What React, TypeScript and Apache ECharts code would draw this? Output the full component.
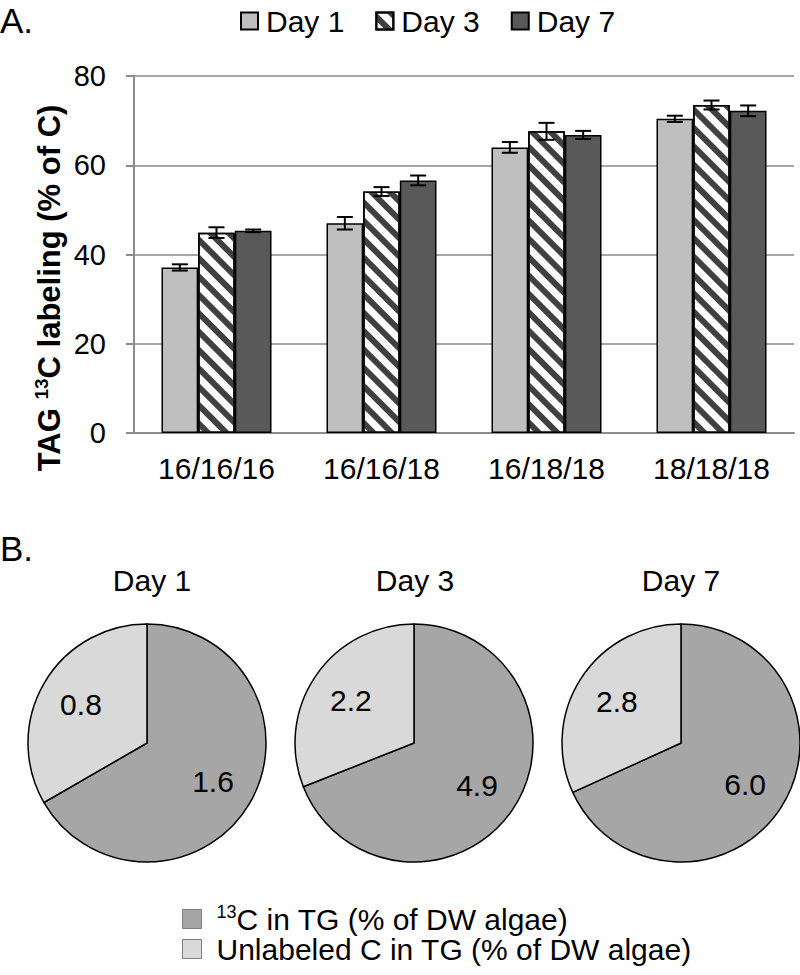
import React, { useEffect, useRef } from "react";
import * as echarts from "echarts";

const categories = ["16/16/16", "16/16/18", "16/18/18", "18/18/18"];
const seriesNames = ["Day 1", "Day 3", "Day 7"];
const day1 = [37.1, 47.0, 64.0, 70.4];
const day3 = [44.9, 54.1, 67.6, 73.5];
const day7 = [45.3, 56.6, 66.8, 72.2];
const err1 = [0.7, 1.4, 1.2, 0.7];
const err3 = [1.2, 1.0, 1.9, 1.0];
const err7 = [0.3, 1.1, 0.9, 1.2];
const yTicks = [0, 20, 40, 60, 80];

const pieTitles = ["Day 1", "Day 3", "Day 7"];
const labeledC = [1.6, 4.9, 6.0];
const unlabeledC = [0.8, 2.2, 2.8];
const pieNames = ["13C in TG (% of DW algae)", "Unlabeled C in TG (% of DW algae)"];

const FONT = "'Liberation Sans', Arial, sans-serif";

export default function App() {
  const ref = useRef<HTMLDivElement>(null);
  useEffect(() => {
    if (!ref.current) return;
    const chart = echarts.init(ref.current, null, { renderer: "svg" });
    const values = [day1, day3, day7];
    const errs = [err1, err3, err7];
    const barColors = ["#bfbfbf", "#ffffff", "#595959"];
    const errData: number[][] = [];
    values.forEach((arr, k) =>
      arr.forEach((v, i) => errData.push([i, v, errs[k][i], k]))
    );
    const pieCenters = [
      [147, 743],
      [414, 743],
      [681, 743],
    ];
    const pieTitleX = [152, 415, 681];

    const barSeries = seriesNames.map((name, k) => ({
      name,
      type: "bar",
      data: values[k],
      barGap: "0%",
      barCategoryGap: "33.33%",
      itemStyle: {
        color: barColors[k],
        borderColor: "#000",
        borderWidth: 1.5,
        ...(k === 1
          ? {
              decal: {
                symbol: "rect",
                symbolSize: 1,
                dashArrayX: [1, 0],
                dashArrayY: [6, 7],
                rotation: Math.PI / 4,
                color: "#404040",
              },
            }
          : {}),
      },
    }));

    const pieSeries = pieTitles.map((t, p) => ({
      name: t,
      type: "pie",
      radius: 119,
      center: pieCenters[p],
      startAngle: 90,
      clockwise: true,
      data: [
        { name: pieNames[0], value: labeledC[p], itemStyle: { color: "#a6a6a6" } },
        { name: pieNames[1], value: unlabeledC[p], itemStyle: { color: "#d9d9d9" } },
      ],
      itemStyle: { borderColor: "#000", borderWidth: 1.5 },
      label: {
        show: true,
        position: "inside",
        formatter: (pp: any) => Number(pp.value).toFixed(1),
        fontSize: 30,
        fontFamily: FONT,
        color: "#000",
      },
      labelLayout: (lp: any) => {
        const c = pieCenters[p];
        const r = lp.labelRect;
        const cx = r.x + r.width / 2;
        const cy = r.y + r.height / 2;
        const f = 1.22;
        return { x: c[0] + (cx - c[0]) * f, y: c[1] + (cy - c[1]) * f };
      },
      labelLine: { show: false },
      emphasis: { disabled: true },
    }));

    const option: any = {
      animation: false,
      textStyle: { fontFamily: FONT },
      grid: { left: 134, right: 6, top: 76, bottom: 542 },
      legend: [
        {
          data: seriesNames,
          left: 240,
          top: 6,
          padding: 0,
          icon: "rect",
          itemWidth: 17,
          itemHeight: 17,
          itemGap: 31,
          textStyle: { fontSize: 30, fontFamily: FONT, color: "#000", padding: [0, 0, 0, 3] },
        },
        {
          data: pieNames,
          orient: "vertical",
          left: 182,
          top: 903,
          padding: 0,
          icon: "rect",
          itemWidth: 19,
          itemHeight: 19,
          itemGap: 0,
          itemStyle: { borderColor: "#7f7f7f", borderWidth: 1 },
          formatter: (name: string) =>
            name === pieNames[0]
              ? "{sup|13}{n|" + name.slice(2) + "}"
              : "{n|" + name + "}",
          textStyle: {
            fontSize: 30,
            fontFamily: FONT,
            color: "#000",
            padding: [0, 0, 0, 10],
            rich: {
              sup: { fontSize: 18, fontFamily: FONT, color: "#000", verticalAlign: "top", lineHeight: 32 },
              n: { fontSize: 30, fontFamily: FONT, color: "#000", lineHeight: 32 },
            },
          },
        },
      ],
      xAxis: {
        type: "category",
        data: categories,
        axisLine: { lineStyle: { color: "#8c8c8c", width: 2 } },
        axisTick: { length: 9, lineStyle: { color: "#8c8c8c", width: 2 } },
        axisLabel: { fontSize: 30, color: "#000", margin: 20, fontFamily: FONT },
      },
      yAxis: {
        type: "value",
        min: yTicks[0],
        max: yTicks[yTicks.length - 1],
        interval: 20,
        axisLine: { show: true, lineStyle: { color: "#8c8c8c", width: 2 } },
        axisTick: { show: true, length: 8, lineStyle: { color: "#8c8c8c", width: 2 } },
        splitLine: { lineStyle: { color: "#a6a6a6", width: 2 } },
        axisLabel: { fontSize: 29, color: "#000", margin: 28, fontFamily: FONT },
      },
      graphic: [
        {
          type: "text",
          left: 0,
          top: 3,
          style: { text: "A.", font: `35px ${FONT}`, fill: "#000" },
        },
        {
          type: "text",
          left: 0,
          top: 531,
          style: { text: "B.", font: `35px ${FONT}`, fill: "#000" },
        },
        {
          type: "text",
          x: 49,
          y: 288,
          rotation: Math.PI / 2,
          style: {
            text: "{b|TAG }{sup|13}{b|C labeling (% of C)}",
            align: "center",
            verticalAlign: "middle",
            textAlign: "center",
            textVerticalAlign: "middle",
            fill: "#000",
            font: `bold 31px ${FONT}`,
            rich: {
              b: { fontSize: 31, fontWeight: "bold", fontFamily: FONT, fill: "#000", color: "#000", lineHeight: 34 },
              sup: { fontSize: 19, fontWeight: "bold", fontFamily: FONT, fill: "#000", color: "#000", verticalAlign: "top", lineHeight: 34 },
            },
          },
        },
        ...pieTitles.map((t, p) => ({
          type: "text",
          x: pieTitleX[p],
          y: 580,
          style: {
            text: t,
            font: `30px ${FONT}`,
            fill: "#000",
            align: "center",
            verticalAlign: "middle",
            textAlign: "center",
            textVerticalAlign: "middle",
          },
        })),
      ],
      series: [
        ...barSeries,
        {
          type: "custom",
          name: "err",
          data: errData,
          encode: { x: 0, y: 1 },
          z: 10,
          renderItem: (params: any, api: any) => {
            const cat = api.value(0);
            const val = api.value(1);
            const err = api.value(2);
            const k = api.value(3);
            const band = api.size([1, 0])[0];
            const bw = (band * (1 - 0.3333)) / 3;
            const xc = api.coord([cat, val])[0] + (k - 1) * bw;
            const top = api.coord([cat, val + err])[1];
            const bot = api.coord([cat, val - err])[1];
            const cap = 8;
            const st = { stroke: "#000", lineWidth: 2 };
            return {
              type: "group",
              children: [
                { type: "line", shape: { x1: xc, y1: top, x2: xc, y2: bot }, style: st },
                { type: "line", shape: { x1: xc - cap, y1: top, x2: xc + cap, y2: top }, style: st },
                { type: "line", shape: { x1: xc - cap, y1: bot, x2: xc + cap, y2: bot }, style: st },
              ],
            };
          },
        },
        ...pieSeries,
      ],
    };
    chart.setOption(option);
    return () => chart.dispose();
  }, []);
  return (
    <div
      ref={ref}
      style={{ position: "fixed", left: 0, top: 0, width: 800, height: 975, background: "#fff" }}
    />
  );
}
